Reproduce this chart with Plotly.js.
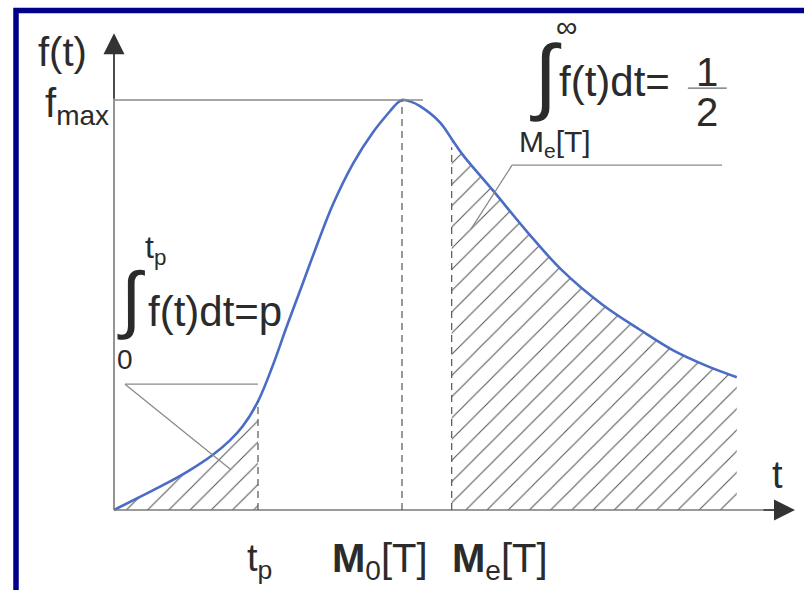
<!DOCTYPE html>
<html>
<head>
<meta charset="utf-8">
<script src="https://cdn.plot.ly/plotly-3.0.1.min.js"></script>
<style>
  html, body { margin: 0; padding: 0; background: #ffffff; }
  #chart { width: 804px; height: 590px; }
</style>
</head>
<body>
<div id="chart"></div>
<script>
// Density curve f(t): time values and density values (f_max = 1)
const tValues = [0, 0.36, 0.74, 1.06, 1.36, 1.61, 1.79, 2.0, 2.2, 2.4, 2.62, 2.78, 3.04, 3.32, 3.6, 3.83, 3.92, 4.0,
                 4.12, 4.25, 4.53, 4.69, 4.85, 5.26, 5.75, 6.22, 6.79, 7.31, 7.76, 8.24, 8.65];
const fValues = [0, 0.032, 0.066, 0.098, 0.133, 0.170, 0.205, 0.265, 0.35, 0.448, 0.552, 0.628, 0.745, 0.845, 0.922, 0.972, 0.99, 1.0,
                 0.996, 0.985, 0.945, 0.905, 0.865, 0.78, 0.676, 0.585, 0.5, 0.439, 0.39, 0.351, 0.324];

// Characteristic points on the time axis: percentile t_p, mode M0[T], median Me[T]
const markerT = [2.0, 4.0, 4.69];
const markerLabels = ['t<sub>p</sub>', '<b>M</b><sub>0</sub>[T]', '<b>M</b><sub>e</sub>[T]'];
const fMax = 1.0;

const tp = markerT[0], mode = markerT[1], median = markerT[2];

function fAt(tv) {
  const i = tValues.indexOf(tv);
  if (i >= 0) return fValues[i];
  for (let k = 1; k < tValues.length; k++) {
    if (tv <= tValues[k]) {
      const r = (tv - tValues[k - 1]) / (tValues[k] - tValues[k - 1]);
      return fValues[k - 1] + r * (fValues[k] - fValues[k - 1]);
    }
  }
  return fValues[fValues.length - 1];
}

const leftIdx = tValues.map((v, i) => i).filter(i => tValues[i] <= tp);
const rightIdx = tValues.map((v, i) => i).filter(i => tValues[i] >= median);

const TXT = '#2b2b2b';
const AXIS = '#7a7a7a';
const FONT = 'Liberation Sans, Arial, sans-serif';
const hatch = { shape: '/', size: 15, solidity: 0.07, fgcolor: '#555555', bgcolor: 'rgba(0,0,0,0)' };

const traces = [
  { // hatched area 0..t_p
    x: leftIdx.map(i => tValues[i]), y: leftIdx.map(i => fValues[i]),
    type: 'scatter', mode: 'lines', line: { width: 0, shape: 'spline', smoothing: 1 },
    fill: 'tozeroy', fillcolor: 'rgba(255,255,255,0)', fillpattern: hatch, hoverinfo: 'skip'
  },
  { // hatched area Me[T]..end
    x: rightIdx.map(i => tValues[i]), y: rightIdx.map(i => fValues[i]),
    type: 'scatter', mode: 'lines', line: { width: 0, shape: 'spline', smoothing: 1 },
    fill: 'tozeroy', fillcolor: 'rgba(255,255,255,0)', fillpattern: hatch, hoverinfo: 'skip'
  },
  { // density curve
    x: tValues, y: fValues, type: 'scatter', mode: 'lines',
    line: { color: '#4a6cc4', width: 2.6, shape: 'spline', smoothing: 1 }
  }
];

const dash = { color: '#555555', width: 1.2, dash: '7px,5px' };
const thin = { color: '#8a8a8a', width: 1.3 };

const shapes = [
  // frame
  { type: 'rect', xref: 'paper', yref: 'paper', x0: 0.0199, x1: 1.05, y0: -0.05, y1: 0.9822,
    line: { color: '#00008a', width: 5.5 }, layer: 'above' },
  // axes
  { type: 'line', x0: 0, y0: 0, x1: 9.3, y1: 0, line: { color: AXIS, width: 1.6 } },
  { type: 'line', x0: 0, y0: 0, x1: 0, y1: 1.12, line: { color: AXIS, width: 1.6 } },
  // f_max level
  { type: 'line', x0: 0, y0: fMax, x1: 4.29, y1: fMax, line: thin },
  // vertical dashed markers
  { type: 'line', x0: tp, y0: 0, x1: tp, y1: fAt(tp), line: dash },
  { type: 'line', x0: mode, y0: 0, x1: mode, y1: fMax, line: dash },
  { type: 'line', x0: median, y0: 0, x1: median, y1: fAt(median) - 0.02, line: dash },
  // leader of the left integral
  { type: 'line', x0: 0.153, y0: 0.307, x1: tp, y1: 0.307, line: thin },
  { type: 'line', x0: 0.153, y0: 0.307, x1: 1.625, y1: 0.098, line: thin },
  // leader of the right integral
  { type: 'line', x0: 5.528, y0: 0.841, x1: 8.444, y1: 0.841, line: thin },
  { type: 'line', x0: 5.528, y0: 0.841, x1: 4.958, y1: 0.685, line: thin },
  // fraction bar of 1/2
  { type: 'line', x0: 7.97, y0: 1.029, x1: 8.51, y1: 1.029, line: { color: '#6a6a6a', width: 1.2 } }
];

function label(text, x, y, size, xanchor) {
  return { text: text, x: x, y: y, xref: 'x', yref: 'y', showarrow: false,
    xanchor: xanchor || 'center', yanchor: 'middle',
    font: { family: FONT, size: size, color: TXT } };
}

const annotations = [
  // axis arrowheads
  { x: 9.458, y: 0, ax: 9.0, ay: 0, axref: 'x', ayref: 'y', xref: 'x', yref: 'y', text: '',
    showarrow: true, arrowhead: 2, arrowsize: 2.8, arrowwidth: 1.5, arrowcolor: '#333333' },
  { x: 0, y: 1.163, ax: 0, ay: 1.0, axref: 'x', ayref: 'y', xref: 'x', yref: 'y', text: '',
    showarrow: true, arrowhead: 2, arrowsize: 2.8, arrowwidth: 1.5, arrowcolor: '#333333' },
  // axis names
  label('f(t)', -1.09, 1.117, 40, 'left'),
  label('f<sub>max</sub>', -0.98, 0.985, 40, 'left'),
  label('t', 9.22, 0.085, 38),
  // left integral  ∫_0^{t_p} f(t)dt = p
  label('∫', 0.24, 0.515, 74),
  label('t<sub>p</sub>', 0.40, 0.635, 32, 'left'),
  label('0', 0.153, 0.368, 28),
  label('f(t)dt=p', 0.45, 0.485, 42, 'left'),
  // right integral  ∫_{Me[T]}^{∞} f(t)dt = 1/2
  label('∫', 6.0, 1.06, 84),
  label('∞', 6.29, 1.18, 30),
  label('f(t)dt=', 6.15, 1.044, 42, 'left'),
  label('1', 8.236, 1.068, 40),
  label('2', 8.236, 0.971, 40),
  label('M<sub>e</sub>[T]', 5.597, 0.895, 30, 'left'),
  // time-axis markers
  label(markerLabels[0], 1.82, -0.125, 38, 'left'),
  label(markerLabels[1], 3.70, -0.125, 40, 'center'),
  label(markerLabels[2], 4.67, -0.125, 40, 'left')
];

const layout = {
  width: 804, height: 590,
  margin: { l: 0, r: 0, t: 0, b: 0, pad: 0 },
  paper_bgcolor: '#ffffff', plot_bgcolor: '#ffffff',
  showlegend: false,
  xaxis: { range: [-1.5833, 9.5833], visible: false, fixedrange: true },
  yaxis: { range: [-0.1951, 1.2439], visible: false, fixedrange: true },
  shapes: shapes,
  annotations: annotations
};

Plotly.newPlot('chart', traces, layout, { displayModeBar: false, staticPlot: true });
</script>
</body>
</html>
